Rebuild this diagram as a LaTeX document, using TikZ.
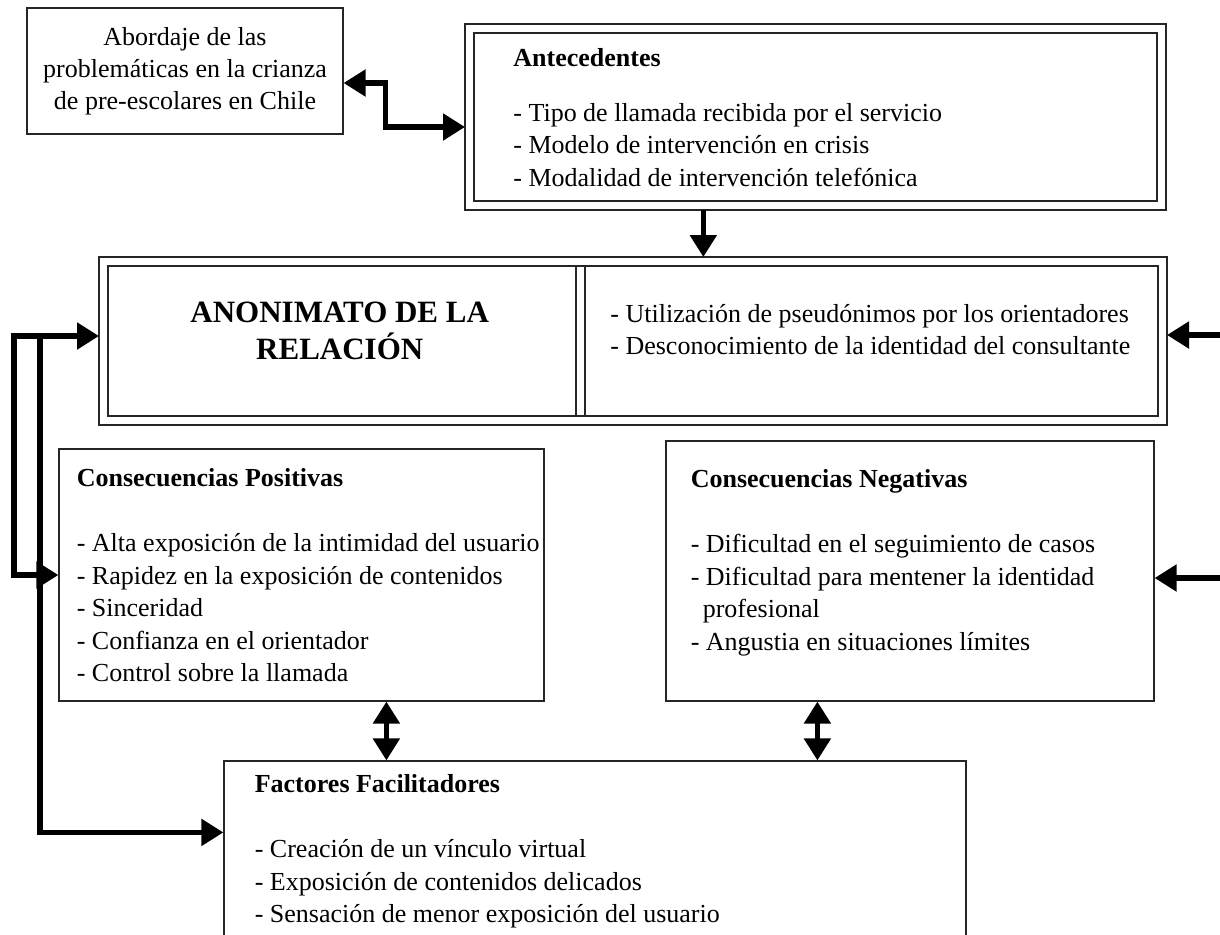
\documentclass[tikz,border=0pt]{standalone}
\usepackage{fontspec}
\setmainfont{Liberation Serif}
\usetikzlibrary{arrows.meta,calc,positioning}

\begin{document}
\begin{tikzpicture}[x=0.5pt, y=-0.5pt]
	\tikzstyle{box} = [draw=black!85, rectangle, line width=0.6pt, inner sep=0pt, font={\fontsize{13}{16}\selectfont}];
	\tikzstyle{dbox} = [box, double, double distance=3.9pt, outer sep=2.25pt];
	\tikzstyle{info} = [align=left, inner sep=0pt, font={\fontsize{13}{16.25}\selectfont}];
	\tikzstyle{point} = [line width=2.6pt, >={Triangle[length=11pt, width=13pt]}];

	\useasboundingbox (0,0) rectangle (1220,934);

	\node[box, align=center, minimum width=158pt, minimum height=63pt] (abord) at (185,71)
		{Abordaje de las\\problemáticas en la crianza\\de pre-escolares en Chile};
	\node[dbox, minimum width=346pt, minimum height=88.5pt] (ante) at (815.5,117) {};
	\node[dbox, minimum width=529.5pt, minimum height=79.5pt] (main) at (633,341) {};
	\node[box, minimum width=242.5pt, minimum height=126pt] (pos) at (301.5,575) {};
	\node[box, minimum width=244pt, minimum height=130pt] (neg) at (910,571) {};
	\node[box, minimum width=371pt, minimum height=100pt] (fact) at (595,861) {};

	\coordinate (dv) at ($(main.north west)+(481.5,0)$);
	\coordinate (dvb) at (dv |- main.south);
	\foreach \dx in {-4.5,4.5}
		\draw[draw=black!85, line width=0.6pt] ($(dv)+(\dx,9)$) -- ($(dvb)+(\dx,-9)$);

	\node[info, below right=12pt and 24pt of ante.north west] (anteText)
		{\textbf{Antecedentes}\\[11.25pt]
		 - Tipo de llamada recibida por el servicio\\
		 - Modelo de intervención en crisis\\
		 - Modalidad de intervención telefónica};
	\node[anchor=north, inner sep=0pt, align=center, font={\bfseries\fontsize{15.5}{18.5}\selectfont}] (anon)
		at ($(main.north west)!.5!(dv) + (0,45)$) {ANONIMATO DE LA\\RELACIÓN};
	\node[info, below right=23.5pt and 14.75pt of dv] (mainText)
		{- Utilización de pseudónimos por los orientadores\\
		 - Desconocimiento de la identidad del consultante};
	\node[info, below right=10pt and 9pt of pos.north west] (posText)
		{\textbf{Consecuencias Positivas}\\[16.25pt]
		 - Alta exposición de la intimidad del usuario\\
		 - Rapidez en la exposición de contenidos\\
		 - Sinceridad\\
		 - Confianza en el orientador\\
		 - Control sobre la llamada};
	\node[info, below right=14.5pt and 12.5pt of neg.north west] (negText)
		{\textbf{Consecuencias Negativas}\\[16.25pt]
		 - Dificultad en el seguimiento de casos\\
		 - Dificultad para mentener la identidad\\
		 \hspace*{6pt}profesional\\
		 - Angustia en situaciones límites};
	\node[info, below right=7pt and 15.5pt of fact.north west] (factText)
		{\textbf{Factores Facilitadores}\\[16.25pt]
		 - Creación de un vínculo virtual\\
		 - Exposición de contenidos delicados\\
		 - Sensación de menor exposición del usuario};

	\draw[point, <->] ($(abord.east)+(0,12)$) -- ++(42,0) |- ($(ante.west)+(0,10)$);
	\draw[point, ->] ($(ante.south west)!.34!(ante.south east)$) coordinate (d) -- (d |- main.north);

	\coordinate (c1) at (14,336);
	\coordinate (c2) at (40,336);
	\draw[point, <->] ($(main.west)+(0,-5)$) -- (c1) |- (pos.west);
	\draw[point, ->] (c2) |- ($(fact.north west)+(0,72)$);

	\coordinate (r1) at (1220,335);
	\coordinate (r2) at (1220,578);
	\draw[point, ->] (r1) -- (r1 -| main.east);
	\draw[point, ->] (r2) -- (r2 -| neg.east);

	\draw[point, <->] ($(fact.north west)+(163,0)$) coordinate (e1) -- (e1 |- pos.south);
	\draw[point, <->] ($(fact.north west)+(594,0)$) coordinate (e2) -- (e2 |- neg.south);
\end{tikzpicture}
\end{document}
